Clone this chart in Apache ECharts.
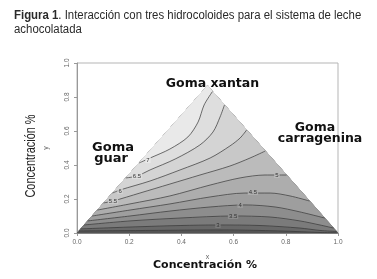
<!DOCTYPE html>
<html><head><meta charset="utf-8">
<script src="https://cdn.jsdelivr.net/npm/echarts@6/dist/echarts.min.js"></script>
<style>html,body{margin:0;padding:0;background:#fff}#c{width:377px;height:279px}</style>
</head><body><div id="c"></div>
<script>
// tick labels
const xTicks = [0, 0.2, 0.4, 0.6, 0.8, 1.0];
const yTicks = [0, 0.2, 0.4, 0.6, 0.8, 1.0];
// ternary triangle corners (data units)
const triangle = [[0, 0], [1, 0], [0.5, 0.866]];
const apex = [0.5, 0.866];
// contour levels and their lines (data units)
const levels = [2.5, 3, 3.5, 4, 4.5, 5, 5.5, 6, 6.5, 7];
const line25 = [[0.007,0.012],[0.280,0.015],[0.548,0.018],[0.778,0.012],[0.931,0.003],[0.996,0.001]];
const line30 = [[0.014,0.024],[0.203,0.035],[0.395,0.044],[0.540,0.047],[0.701,0.044],[0.854,0.029],[0.931,0.015],[0.995,0.009]];
const line35 = [[0.027,0.047],[0.203,0.071],[0.395,0.088],[0.598,0.100],[0.740,0.094],[0.854,0.071],[0.931,0.047],[0.983,0.029]];
const line40 = [[0.041,0.071],[0.203,0.100],[0.356,0.129],[0.510,0.153],[0.644,0.165],[0.759,0.153],[0.854,0.124],[0.949,0.088]];
const line45 = [[0.058,0.100],[0.203,0.135],[0.356,0.171],[0.510,0.212],[0.644,0.235],[0.740,0.235],[0.816,0.218],[0.891,0.188]];
const line50 = [[0.078,0.135],[0.203,0.171],[0.356,0.218],[0.510,0.282],[0.625,0.324],[0.720,0.341],[0.803,0.341]];
const line55 = [[0.102,0.177],[0.138,0.188],[0.241,0.235],[0.356,0.288],[0.471,0.341],[0.586,0.394],[0.663,0.441],[0.721,0.482]];
const line60 = [[0.136,0.235],[0.165,0.253],[0.280,0.306],[0.395,0.371],[0.510,0.441],[0.586,0.512],[0.625,0.559],[0.650,0.606]];
const line65 = [[0.187,0.324],[0.230,0.335],[0.280,0.371],[0.376,0.435],[0.471,0.518],[0.521,0.594],[0.548,0.682],[0.565,0.753]];
const line70 = [[0.238,0.412],[0.280,0.441],[0.356,0.494],[0.425,0.565],[0.464,0.653],[0.487,0.753],[0.519,0.832]];
const contourLines = [line25, line30, line35, line40, line45, line50, line55, line60, line65, line70];
// fill tone below the first level, then above each level
const fillColors = ['#545454','#686868','#7b7b7b','#8d8d8d','#9e9e9e','#adadad','#bbbbbb','#c8c8c8','#d4d4d4','#dedede','#e9e9e9'];
// contour labels: [x, y, text]
const contourLabels = [[0.272,0.429,'7'],[0.230,0.335,'6.5'],[0.165,0.247,'6'],[0.138,0.188,'5.5'],
  [0.766,0.341,'5'],[0.674,0.241,'4.5'],[0.625,0.165,'4'],[0.598,0.100,'3.5'],[0.540,0.047,'3']];
const labelLevels = [7, 6.5, 6, 5.5, 5, 4.5, 4, 3.5, 3];

const chart = echarts.init(document.getElementById('c'), null, {renderer: 'canvas'});

const fillSeries = {
  type: 'custom', coordinateSystem: 'cartesian2d', silent: true, clip: false, z: 2,
  data: fillColors.map((c, i) => [0.5, 0.1, i]),
  renderItem: function (params, api) {
    const i = params.dataIndex;
    let pts;
    if (i === 0) pts = triangle.map(p => api.coord(p));
    else { pts = contourLines[i - 1].map(p => api.coord(p)); pts.push(api.coord(apex)); }
    return {type: 'polygon', shape: {points: pts}, style: {fill: fillColors[i], stroke: fillColors[i], lineWidth: 0.6}};
  }
};

const lineSeries = contourLines.map(ln => ({
  type: 'line', data: ln, showSymbol: false, symbol: 'none', smooth: 0.3, silent: true, z: 3,
  lineStyle: {color: '#333', width: 0.7}
}));

const labelSeries = {
  type: 'custom', coordinateSystem: 'cartesian2d', silent: true, z: 4,
  data: contourLabels,
  renderItem: function (params, api) {
    const d = contourLabels[params.dataIndex];
    const p = api.coord([d[0], d[1]]);
    const li = levels.indexOf(labelLevels[params.dataIndex]);
    return {type: 'text', x: p[0], y: p[1], style: {text: d[2], fill: '#333', font: '6px Liberation Sans',
      textAlign: 'center', textVerticalAlign: 'middle', backgroundColor: fillColors[li + 1], padding: [0, 1]}};
  }
};

const option = {
  animation: false,
  backgroundColor: '#fff',
  grid: {left: 77, right: 39, top: 63, bottom: 46, show: true, borderColor: '#b5b5b5', borderWidth: 1, backgroundColor: 'transparent'},
  xAxis: {type: 'value', min: 0, max: 1, interval: 0.2, name: 'x', nameLocation: 'middle', nameGap: 21,
    nameTextStyle: {fontSize: 7, color: '#666', fontFamily: 'Liberation Sans'},
    axisLine: {show: true, lineStyle: {color: '#999', width: 1}},
    axisTick: {show: true, length: 3, lineStyle: {color: '#999'}},
    splitLine: {show: false},
    axisLabel: {fontSize: 6.5, color: '#666', margin: 6, fontFamily: 'Liberation Sans',
      formatter: v => xTicks.includes(+v.toFixed(1)) ? v.toFixed(1) : ''}},
  yAxis: {type: 'value', min: 0, max: 1, interval: 0.2, name: 'y', nameLocation: 'middle', nameGap: 27,
    nameTextStyle: {fontSize: 7, color: '#666', fontFamily: 'Liberation Sans'},
    axisLine: {show: true, lineStyle: {color: '#999', width: 1}},
    axisTick: {show: true, length: 3, lineStyle: {color: '#999'}},
    splitLine: {show: false},
    axisLabel: {fontSize: 6.5, color: '#666', margin: 6, rotate: 90, fontFamily: 'Liberation Sans',
      formatter: v => yTicks.includes(+v.toFixed(1)) ? v.toFixed(1) : ''}},
  series: [fillSeries].concat(lineSeries, [labelSeries]),
  graphic: [
    {type: 'text', x: 14, y: 15.5, scaleX: 0.95, style: {text: '{b|Figura 1}. Interacción con tres hidrocoloides para el sistema de leche',
      fill: '#2a2a2a', font: '12px Liberation Sans', textAlign: 'left', textVerticalAlign: 'middle',
      rich: {b: {fontWeight: 'bold', font: 'bold 12px Liberation Sans', fill: '#2a2a2a'}}}},
    {type: 'text', x: 14, y: 29.5, scaleX: 0.95, style: {text: 'achocolatada', fill: '#2a2a2a', font: '12px Liberation Sans',
      textAlign: 'left', textVerticalAlign: 'middle'}},
    {type: 'text', x: 212.5, y: 84, z: 10, style: {text: 'Goma xantan', fill: '#111', font: 'bold 12.5px DejaVu Sans', textAlign: 'center', textVerticalAlign: 'middle'}},
    {type: 'text', x: 113, y: 148, z: 10, style: {text: 'Goma', fill: '#111', font: 'bold 13px DejaVu Sans', textAlign: 'center', textVerticalAlign: 'middle'}},
    {type: 'text', x: 111, y: 158.5, z: 10, style: {text: 'guar', fill: '#111', font: 'bold 13px DejaVu Sans', textAlign: 'center', textVerticalAlign: 'middle'}},
    {type: 'text', x: 315, y: 128, z: 10, style: {text: 'Goma', fill: '#111', font: 'bold 12.5px DejaVu Sans', textAlign: 'center', textVerticalAlign: 'middle'}},
    {type: 'text', x: 320, y: 138.5, z: 10, style: {text: 'carragenina', fill: '#111', font: 'bold 12.5px DejaVu Sans', textAlign: 'center', textVerticalAlign: 'middle'}},
    {type: 'text', x: 205, y: 265, z: 10, style: {text: 'Concentración %', fill: '#111', font: 'bold 11px DejaVu Sans', textAlign: 'center', textVerticalAlign: 'middle'}},
    {type: 'text', x: 31, y: 156, rotation: Math.PI / 2, scaleX: 0.78, z: 10, style: {text: 'Concentración %', fill: '#222', font: '14px Liberation Sans', textAlign: 'center', textVerticalAlign: 'middle'}}
  ]
};
chart.setOption(option);
</script>
</body></html>
